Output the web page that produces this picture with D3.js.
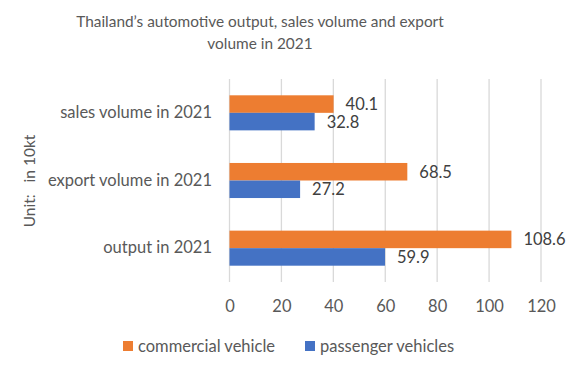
<!DOCTYPE html>
<html>
<head>
<meta charset="utf-8">
<script src="https://cdn.jsdelivr.net/npm/d3@7"></script>
<style>
  body { margin: 0; background: #fff; }
  svg { display: block; font-family: Lato, "Liberation Sans", sans-serif; }
</style>
</head>
<body>
<svg id="chart" width="574" height="371"></svg>
<script>
// data (unit: 10kt)
var categories = ["sales volume in 2021", "export volume in 2021", "output in 2021"];
var seriesNames = ["commercial vehicle", "passenger vehicles"];
var commercial = [40.1, 68.5, 108.6];
var passenger = [32.8, 27.2, 59.9];
var xTicks = [0, 20, 40, 60, 80, 100, 120];
var colors = ["#ED7D31", "#4472C4"];

var svg = d3.select("#chart");

var rows = categories.map(function(c, i) {
  return { cat: c, values: [commercial[i], passenger[i]] };
});

var x = d3.scaleLinear().domain([0, 120]).range([229.5, 541]);
var y = d3.scaleBand().domain(categories).range([79, 282]).paddingInner(0).paddingOuter(0);
var inner = d3.scaleBand().domain(seriesNames).range([0, y.bandwidth()]).paddingInner(0).paddingOuter(0.93);

// title
var title = svg.append("text")
  .attr("text-anchor", "middle")
  .attr("fill", "#595959")
  .style("font-size", "15.4px");
title.append("tspan").attr("x", 260).attr("y", 27).text("Thailand\u2019s automotive output, sales volume and export");
title.append("tspan").attr("x", 260).attr("y", 49).text("volume in 2021");

// gridlines
svg.append("g")
  .selectAll("line")
  .data(xTicks)
  .enter().append("line")
  .attr("x1", function(d) { return x(d); })
  .attr("x2", function(d) { return x(d); })
  .attr("y1", 79)
  .attr("y2", 282)
  .attr("stroke", "#d9d9d9")
  .attr("stroke-width", 1.3);

// x axis labels
var xAxis = svg.append("g")
  .attr("transform", "translate(0,282)")
  .call(d3.axisBottom(x).tickValues(xTicks).tickSize(0).tickPadding(18));
xAxis.select(".domain").remove();
xAxis.selectAll("text")
  .attr("fill", "#595959")
  .style("font-family", "Lato, sans-serif")
  .style("font-size", "16.5px");

// y axis labels
var yAxis = svg.append("g")
  .attr("transform", "translate(229,0)")
  .call(d3.axisLeft(y).tickSize(0).tickPadding(17));
yAxis.select(".domain").remove();
yAxis.selectAll("text")
  .attr("fill", "#595959")
  .style("font-family", "Lato, sans-serif")
  .style("font-size", "16.5px");

// y axis title
svg.append("text")
  .attr("transform", "translate(35,181) rotate(-90)")
  .attr("text-anchor", "middle")
  .attr("fill", "#595959")
  .style("font-size", "15.5px")
  .style("white-space", "pre")
  .text("Unit:   in 10kt");

// bars
var groups = svg.append("g")
  .selectAll("g")
  .data(rows)
  .enter().append("g")
  .attr("transform", function(d) { return "translate(0," + y(d.cat) + ")"; });

var cells = groups.selectAll("g")
  .data(function(d) {
    return d.values.map(function(v, i) { return { name: seriesNames[i], value: v, i: i }; });
  })
  .enter().append("g");

cells.append("rect")
  .attr("x", x(0))
  .attr("y", function(d) { return inner(d.name); })
  .attr("width", function(d) { return x(d.value) - x(0); })
  .attr("height", inner.bandwidth())
  .attr("fill", function(d) { return colors[d.i]; });

cells.append("text")
  .attr("x", function(d) { return x(d.value) + 12; })
  .attr("y", function(d) { return inner(d.name) + inner.bandwidth() / 2; })
  .attr("dy", "0.36em")
  .attr("fill", "#404040")
  .style("font-size", "16.5px")
  .text(function(d) { return d3.format(".1f")(d.value); });

// legend
var legendX = [123, 305];
var legend = svg.append("g")
  .selectAll("g")
  .data(seriesNames)
  .enter().append("g")
  .attr("transform", function(d, i) { return "translate(" + legendX[i] + ",341)"; });

legend.append("rect")
  .attr("width", 10)
  .attr("height", 10)
  .attr("fill", function(d, i) { return colors[i]; });

legend.append("text")
  .attr("x", 15)
  .attr("y", 5)
  .attr("dy", "0.36em")
  .attr("fill", "#595959")
  .style("font-size", "16.5px")
  .text(function(d) { return d; });
</script>
</body>
</html>
